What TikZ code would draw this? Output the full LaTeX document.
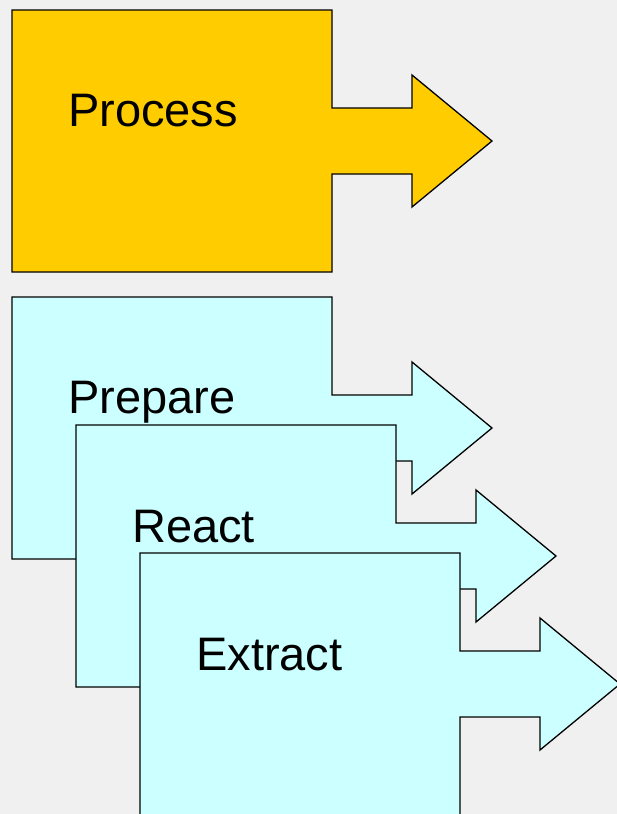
\documentclass[tikz,border=0pt]{standalone}
\usepackage{fontspec}
\setmainfont{Liberation Sans}
\definecolor{bgc}{HTML}{F0F0F0}
\definecolor{procc}{HTML}{FFCC00}
\definecolor{stepc}{HTML}{CCFFFF}
\begin{document}
\begin{tikzpicture}[x=1pt,y=-1pt,
  boxarrow/.pic={
    \path[pic actions] (0,0) -- (320,0) -- (320,98) -- (400,98) -- (400,65)
      -- (480,131) -- (400,197) -- (400,164) -- (320,164) -- (320,262)
      -- (0,262) -- cycle;
  },
  shapeline/.style={draw=black, line width=1.3pt, line join=miter},
  label/.style={anchor=base west, inner sep=0pt, font=\fontsize{47}{56}\selectfont}
]
\fill[bgc] (0,0) rectangle (617,814);
\useasboundingbox (0,0) rectangle (617,814);
\begin{scope}
\clip (0,0) rectangle (617,814);
\pic[shapeline, fill=procc] at (12,10) {boxarrow};
\node[label] (process) at (68,126) {Process};
\pic[shapeline, fill=stepc] at (12,297) {boxarrow};
\node[label] (prepare) at (68,413) {Prepare};
\pic[shapeline, fill=stepc] at (76,425) {boxarrow};
\node[label] (react) at (132,542) {React};
\pic[shapeline, fill=stepc] at (140,553) {boxarrow};
\node[label] (extract) at (196,670) {Extract};
\end{scope}
\end{tikzpicture}
\end{document}
